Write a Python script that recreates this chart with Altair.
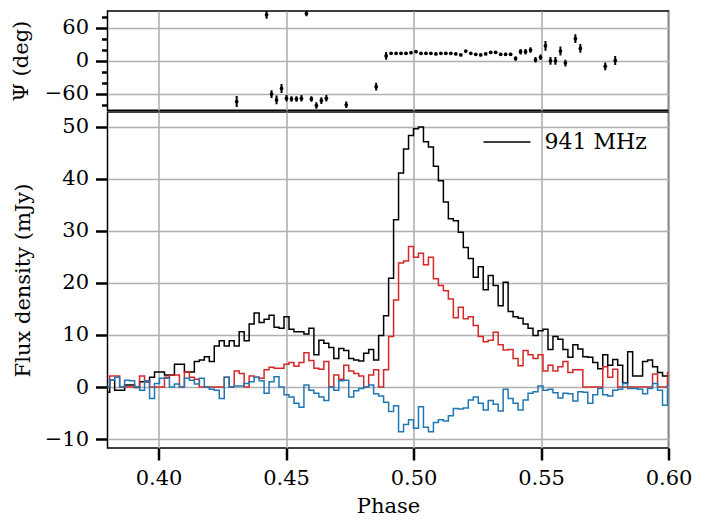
import altair as alt
import pandas as pd

# ---------------- data ----------------
NBINS = 512          # phase bins per rotation
FIRST_BIN = 194      # first bin drawn (profile arrays start here)

total_I = [
    -1.0, 1.3, -0.6, -0.6, 0.4, 0.4, -0.1, 1.0, 1.0, 1.9,
    2.9, 2.9, 2.3, 2.3, 4.4, 4.4, 2.9, 2.9, 4.9, 5.2,
    5.8, 4.9, 7.9, 8.9, 7.9, 8.9, 7.9, 10.6, 8.9, 12.1,
    14.2, 12.4, 13.0, 13.8, 11.5, 11.3, 13.5, 11.1, 10.6, 10.6,
    10.2, 11.3, 6.2, 9.0, 8.4, 7.6, 5.5, 7.4, 7.0, 5.5,
    5.2, 5.0, 6.5, 7.2, 5.2, 9.9, 13.7, 20.9, 32.1, 41.1,
    45.7, 48.3, 49.6, 49.9, 47.1, 46.1, 42.4, 39.6, 35.5, 32.3,
    31.9, 29.7, 26.8, 24.7, 21.1, 23.1, 18.7, 21.4, 19.5, 15.6,
    20.1, 14.5, 13.5, 13.2, 12.1, 11.3, 9.9, 10.8, 11.1, 7.2,
    9.7, 9.2, 7.2, 5.7, 8.1, 7.3, 5.8, 5.7, 4.7, 3.5,
    6.2, 4.2, 5.3, 4.2, 0.8, 6.8, 2.1, 2.1, 4.9, 5.2,
    3.9, 2.8, 2.1, 2.1,
]
linear_L = [
    0.0, 2.1, 2.1, 0.0, 0.0, 0.0, 0.0, 2.1, 1.0, 0.0,
    0.0, 0.0, 1.9, 2.3, 2.3, 0.0, 2.9, 1.9, 1.5, 0.0,
    0.0, 0.0, 0.0, 0.0, 1.9, 0.0, 3.1, 2.6, 0.0, 2.1,
    1.9, 1.7, 3.3, 3.8, 3.6, 3.6, 4.4, 4.7, 4.0, 4.7,
    6.6, 5.1, 3.6, 3.4, 4.9, 0.0, 2.3, 1.5, 4.2, 3.1,
    2.6, 2.1, 0.0, 2.3, 3.3, 0.0, 3.3, 9.7, 16.7, 23.8,
    24.2, 27.0, 24.9, 25.7, 23.5, 24.9, 20.8, 19.5, 18.5, 16.9,
    13.3, 15.3, 13.1, 13.5, 11.8, 9.7, 8.7, 9.0, 10.5, 8.1,
    7.1, 7.2, 5.5, 4.1, 7.0, 6.2, 5.5, 6.2, 3.1, 4.2,
    3.1, 3.9, 4.9, 2.8, 3.3, 3.3, 0.0, 0.0, 0.0, 0.0,
    3.9, 1.9, 3.4, 0.0, 0.0, 0.0, 0.0, 0.0, 0.0, 0.0,
    2.5, 0.0, 0.0, 2.8,
]
circular_V = [
    0.0, 1.3, 1.9, 0.0, 1.3, 1.2, 0.0, -0.6, 1.2, -2.2,
    0.7, 1.7, 1.7, 0.0, 0.6, 0.0, 1.7, 1.3, 0.6, 1.7,
    0.0, -0.4, -0.6, -2.2, 1.9, 0.0, 0.2, 0.2, 0.7, 1.0,
    1.9, 1.2, -1.2, 1.0, 2.0, 0.0, -1.5, -1.9, -3.1, -3.9,
    0.4, -0.6, -1.2, -1.9, -2.6, 0.0, -0.6, 1.2, 1.3, -1.9,
    -0.7, -0.3, 0.0, 0.4, -1.3, -1.7, -2.9, -4.7, -3.6, -8.6,
    -7.2, -6.3, -7.9, -3.8, -7.7, -8.6, -6.8, -6.3, -6.5, -5.5,
    -4.1, -4.2, -4.0, -2.5, -1.9, -3.1, -4.4, -2.6, -3.3, -4.6,
    -0.4, -2.2, -3.1, -4.4, -2.5, -1.2, -0.9, 0.2, -0.6, -0.4,
    -1.1, -2.1, -1.2, -1.3, -2.7, -0.9, -1.0, -3.1, -1.5, -0.3,
    -1.5, -1.7, -0.6, -0.4, 0.7, -0.3, -0.3, -0.4, -1.3, -0.3,
    0.7, -0.6, -3.5, 0.3,
]

# polarisation position angle: bin index, angle (deg), error (deg)
pa_bin = [220, 226, 227, 228, 229, 230, 231, 232, 233, 234, 235, 236, 237, 238,
          242, 248, 250, 251, 252, 253, 254, 255, 256, 257, 258, 259, 260, 261,
          262, 263, 264, 265, 266, 267, 268, 269, 270, 271, 272, 273, 274, 275,
          276, 277, 278, 279, 280, 281, 282, 283, 284, 285, 286, 288, 289, 294,
          296]
pa_deg = [-74.3, 83.0, -60.6, -71.3, -50.5, -68.3, -69.5, -69.5, -68.3, 85.3,
          -69.5, -81.4, -72.5, -68.3, -80.1, -47.3, 8.5, 13.3, 13.3, 13.3,
          13.3, 14.4, 16.2, 13.3, 13.3, 13.3, 12.1, 13.3, 13.3, 13.3,
          12.1, 10.3, 17.4, 13.3, 11.5, 10.3, 12.1, 15.0, 15.0, 11.5,
          11.5, 11.5, 3.8, 16.2, 16.2, 19.1, 1.4, 6.1, 26.8, -0.4,
          -0.4, 17.4, -4.5, 39.8, 22.1, -10.4, 0.2]
pa_err = [10, 7, 7, 8, 8, 6, 5, 5, 6, 5,
          5, 6, 6, 6, 6, 7, 7, 2, 2, 2,
          2, 2, 2, 2, 2, 2, 2, 2, 2, 2,
          2, 2, 2, 2, 2, 2, 2, 2, 2, 3,
          3, 3, 4, 5, 5, 5, 5, 5, 9, 7,
          7, 8, 6, 8, 8, 7, 8]

LEGEND_LABEL = "941 MHz"
FONT = "DejaVu Serif"
TOP_H = 99.25
MAIN_H = 336

# ---------------- tables ----------------
phase = [(FIRST_BIN + i + 0.5) / NBINS for i in range(len(total_I))]
prof = pd.DataFrame({"phase": phase, "I": total_I, "L": linear_L, "V": circular_V,
                     "label": LEGEND_LABEL})
pa = pd.DataFrame({"phase": [(b + 0.5) / NBINS for b in pa_bin], "pa": pa_deg, "err": pa_err})
pa["lo"] = pa["pa"] - pa["err"]
pa["hi"] = pa["pa"] + pa["err"]

x_scale = alt.Scale(domain=[0.38, 0.60], nice=False, zero=False)
flux_scale = alt.Scale(domain=[-11.7, 52.8], nice=False, zero=False)
pa_scale = alt.Scale(domain=[-90, 90], nice=False, zero=False)
x_ticks = [0.40, 0.45, 0.50, 0.55, 0.60]

title_style = dict(titleFont=FONT, titleFontSize=21, titleFontWeight="normal",
                   titleColor="black")

# ---------------- top panel: position angle ----------------
x_top = alt.X("phase:Q", scale=x_scale,
              axis=alt.Axis(orient="top", values=x_ticks, labels=False, ticks=False,
                            domain=False, grid=True, title=None, minExtent=0,
                            maxExtent=0, offset=0))
err_bars = alt.Chart(pa).mark_rule(color="black", strokeWidth=2, clip=True).encode(
    x=x_top,
    y=alt.Y("lo:Q", scale=pa_scale,
            axis=alt.Axis(orient="left", values=[-60, 0, 60], tickSize=12, labelPadding=7,
                          grid=True, title="Ψ (deg)", titleAngle=270, titleX=-86,
                          titleY=TOP_H / 2, titleAlign="center", titleBaseline="middle",
                          **title_style)),
    y2="hi:Q",
)
pa_pts = alt.Chart(pa).mark_circle(color="black", size=14, opacity=1, clip=True).encode(
    x=x_top,
    y=alt.Y("pa:Q", scale=pa_scale,
            axis=alt.Axis(orient="left", values=[-80, -40, -20, 20, 40, 80], tickSize=6,
                          labels=False, grid=False, title=None)),
)
top = alt.layer(err_bars, pa_pts).resolve_axis(y="independent").properties(
    width=561, height=TOP_H)

# ---------------- main panel: flux density ----------------
x_main = alt.X("phase:Q", scale=x_scale,
               axis=alt.Axis(values=x_ticks, format=".2f", tickSize=12, labelPadding=7,
                             grid=True, title="Phase", titleY=64.4,
                             titleBaseline="alphabetic", **title_style))
y_axis = alt.Axis(values=[-10, 0, 10, 20, 30, 40, 50], tickSize=12, labelPadding=7,
                  grid=True, title="Flux density (mJy)", titleAngle=270, titleX=-84.5,
                  titleY=MAIN_H / 2, titleAlign="center", titleBaseline="middle",
                  **title_style)

line_I = alt.Chart(prof).mark_line(interpolate="step", strokeWidth=1.5, clip=True).encode(
    x=x_main,
    y=alt.Y("I:Q", scale=flux_scale, axis=y_axis),
    color=alt.Color("label:N", scale=alt.Scale(domain=[LEGEND_LABEL], range=["black"]),
                    legend=alt.Legend(title=None, orient="none", legendX=375, legendY=5.5,
                                      symbolType="stroke", symbolSize=2209,
                                      symbolStrokeWidth=1.5, labelFont=FONT,
                                      labelFontSize=22, labelOffset=13, padding=0)),
)
line_L = alt.Chart(prof).mark_line(interpolate="step", strokeWidth=1.5, clip=True,
                                   color="#d62728").encode(
    x=x_main, y=alt.Y("L:Q", scale=flux_scale, axis=y_axis))
line_V = alt.Chart(prof).mark_line(interpolate="step", strokeWidth=1.5, clip=True,
                                   color="#1f77b4").encode(
    x=x_main, y=alt.Y("V:Q", scale=flux_scale, axis=y_axis))

main = alt.layer(line_I, line_L, line_V).properties(width=561, height=MAIN_H)

chart = alt.vconcat(top, main, spacing=0).resolve_legend(color="independent").properties(
    padding={"left": 1.5, "top": 2, "right": 2, "bottom": 0}
).configure_view(stroke="black", strokeWidth=1.5).configure_axis(
    labelFont=FONT, labelFontSize=21, labelColor="black", labelFlush=False,
    titleFont=FONT, titleFontSize=21, titleFontWeight="normal", titleColor="black",
    tickColor="black", tickWidth=2.5, domain=False,
    gridColor="#b0b0b0", gridWidth=1.6,
)

chart.save("out.html", embed_options={"renderer": "svg", "actions": False})
